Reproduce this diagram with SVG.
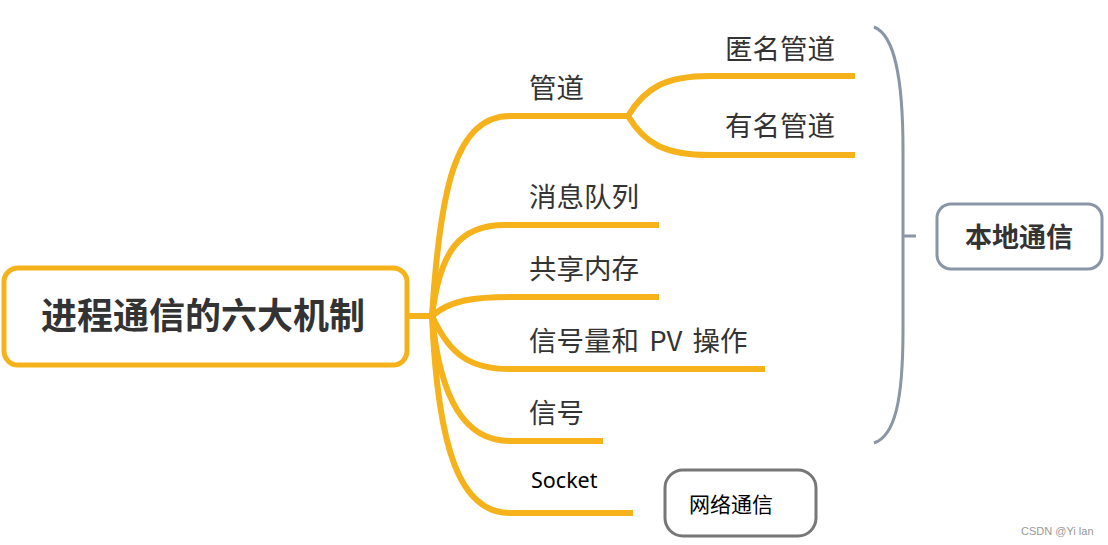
<svg xmlns="http://www.w3.org/2000/svg" width="1108" height="545" viewBox="0 0 1108 545">
<style>
.br{fill:none;stroke:#F5B21B;stroke-width:6;stroke-linecap:butt}
.lbl{font-family:"Noto Sans CJK SC","Noto Sans",sans-serif;font-size:27.5px;fill:#333}
.gray{fill:none;stroke:#8A95A5;stroke-width:3}
</style>
<rect width="1108" height="545" fill="#fff"/>
<g id="connectors">
<path class="br" d="M408 316 L432 316"/>
<path class="br" d="M432 316 C440 190 455 116 510 116 L628 116"/>
<path class="br" d="M628 116 C645 88 665 76 710 76 L855 76"/>
<path class="br" d="M628 116 C645 144 665 155 710 155 L855 155"/>
<path class="br" d="M432 316 C440 250 460 225 505 225 L659 225"/>
<path class="br" d="M432 316 C450 300 475 297 510 297 L659 297"/>
<path class="br" d="M432 316 C450 355 470 369 510 369 L765 369"/>
<path class="br" d="M432 316 C440 400 465 441 510 441 L603 441"/>
<path class="br" d="M432 316 C438 450 460 513 510 513 L633 513"/>
<path class="gray" d="M874 27 C895 35 903 80 903 150 L903 330 C903 400 895 436 874 443"/>
<path class="gray" d="M903 236 L916 236"/>
</g>
<g id="root">
<rect x="4" y="268" width="403" height="97" rx="14" fill="#fff" stroke="#F5B21B" stroke-width="5"/>
<text x="203" y="329" text-anchor="middle" font-family="'Noto Sans CJK SC','Noto Sans',sans-serif" font-size="36" font-weight="bold" fill="#333">进程通信的六大机制</text>
</g>
<g id="n-pipe"><text class="lbl" x="529" y="98">管道</text></g>
<g id="n-anon"><text class="lbl" x="725" y="59">匿名管道</text></g>
<g id="n-named"><text class="lbl" x="725" y="136">有名管道</text></g>
<g id="n-mq"><text class="lbl" x="529" y="207">消息队列</text></g>
<g id="n-shm"><text class="lbl" x="529" y="279">共享内存</text></g>
<g id="n-sem"><text class="lbl" x="529" y="351" word-spacing="4">信号量和 PV 操作</text></g>
<g id="n-sig"><text class="lbl" x="529" y="423">信号</text></g>
<g id="n-socket"><text x="531" y="488" font-family="'Noto Sans','Liberation Sans',sans-serif" font-size="21.5" fill="#000">Socket</text></g>
<g id="n-local">
<rect x="937" y="204" width="165" height="65" rx="14" fill="#fff" stroke="#8A95A5" stroke-width="3"/>
<text x="1019" y="247" text-anchor="middle" font-family="'Noto Sans CJK SC','Noto Sans',sans-serif" font-size="27" font-weight="bold" fill="#333">本地通信</text>
</g>
<g id="n-net">
<rect x="665" y="470" width="151" height="66" rx="18" fill="#fff" stroke="#777" stroke-width="3"/>
<text x="689" y="512" font-family="'Noto Sans CJK SC','Noto Sans',sans-serif" font-size="21" fill="#000">网络通信</text>
</g>
<text x="1021" y="535" font-family="'Liberation Sans',sans-serif" font-size="11" fill="#999">CSDN @Yi lan</text>
</svg>
